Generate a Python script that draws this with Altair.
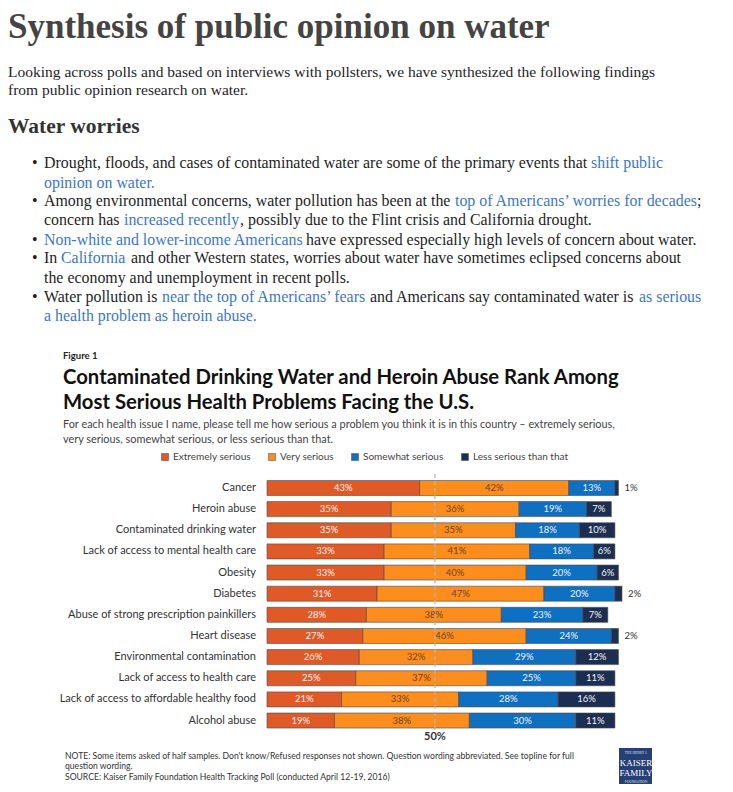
import altair as alt
import pandas as pd

# ---------------- data ----------------
categories = [
    "Cancer", "Heroin abuse", "Contaminated drinking water",
    "Lack of access to mental health care", "Obesity", "Diabetes",
    "Abuse of strong prescription painkillers", "Heart disease",
    "Environmental contamination", "Lack of access to health care",
    "Lack of access to affordable healthy food", "Alcohol abuse",
]
extremely = [43, 35, 35, 33, 33, 31, 28, 27, 26, 25, 21, 19]
very = [42, 36, 35, 41, 40, 47, 38, 46, 32, 37, 33, 38]
somewhat = [13, 19, 18, 18, 20, 20, 23, 24, 29, 25, 28, 30]
less = [1, 7, 10, 6, 6, 2, 7, 2, 12, 11, 16, 11]
series = ["Extremely serious", "Very serious", "Somewhat serious", "Less serious than that"]
midline = [47.3]          # dashed "50%" reference line as drawn in the figure
midline_label = ["50%"]

# ---------------- styles ----------------
colors = ["#df5a27", "#fd8d1d", "#0f6fc0", "#1c2e51"]
SERIF = "Liberation Serif"
SANS = "Lato"
BLUE = "#3d77c2"
INK = "#1e1e1e"
BODY = 15.9

rows = []
for i, cat in enumerate(categories):
    start = 0
    for s, vals in zip(series, [extremely, very, somewhat, less]):
        v = vals[i]
        rows.append({"category": cat, "series": s, "value": v, "start": start,
                     "end": start + v, "mid": start + v / 2, "label": f"{v}%"})
        start += v
df = pd.DataFrame(rows)
ONE = pd.DataFrame({"k": [0]})

xs = alt.Scale(domain=[0, 100], range=[259, 614])
ys = alt.Scale(domain=categories, range=[469.4, 723.1], paddingInner=0.29, paddingOuter=0.145)

bars = alt.Chart(df).mark_bar(stroke="#4a4a4a", strokeWidth=0.6).encode(
    x=alt.X("start:Q", scale=xs, axis=None),
    x2="end:Q",
    y=alt.Y("category:N", scale=ys, axis=None),
    color=alt.Color("series:N", scale=alt.Scale(domain=series, range=colors),
                    legend=alt.Legend(orient="none", legendX=152, legendY=444,
                                      direction="horizontal", title=None,
                                      symbolType="square", symbolSize=49,
                                      symbolStrokeWidth=0.6, symbolStrokeColor="#555",
                                      labelFont=SANS, labelFontSize=10, labelColor="#444",
                                      columnPadding=16, labelOffset=3)),
)

lab_base = dict(font=SANS, fontSize=9.5, baseline="middle", align="center")
white_labels = alt.Chart(df).transform_filter(
    "datum.value >= 5 && datum.series != 'Very serious'"
).mark_text(color="#f4f4f4", **lab_base).encode(
    x=alt.X("mid:Q", scale=xs, axis=None), y=alt.Y("category:N", scale=ys, axis=None), text="label:N")
brown_labels = alt.Chart(df).transform_filter(
    "datum.series == 'Very serious'"
).mark_text(color="#6b4420", **lab_base).encode(
    x=alt.X("mid:Q", scale=xs, axis=None), y=alt.Y("category:N", scale=ys, axis=None), text="label:N")
out_labels = alt.Chart(df).transform_filter("datum.value < 5").mark_text(
    font=SANS, fontSize=9.5, baseline="middle", align="left", dx=6, color="#333"
).encode(x=alt.X("end:Q", scale=xs, axis=None), y=alt.Y("category:N", scale=ys, axis=None), text="label:N")

cat_labels = alt.Chart(pd.DataFrame({"category": categories})).mark_text(
    font=SANS, fontSize=11, align="right", baseline="middle", color="#333"
).encode(x=alt.value(248), y=alt.Y("category:N", scale=ys, axis=None), text="category:N")

mid_df = pd.DataFrame({"m": midline, "t": midline_label})
rule = alt.Chart(mid_df).mark_rule(color="#b5b5b5", strokeDash=[4, 3], strokeWidth=1.3).encode(
    x=alt.X("m:Q", scale=xs, axis=None), y=alt.value(466), y2=alt.value(725))
rule_lab = alt.Chart(mid_df).mark_text(font=SANS, fontSize=11, fontWeight="bold", color="#333",
                                       baseline="middle").encode(
    x=alt.X("m:Q", scale=xs, axis=None), y=alt.value(729), text="t:N")


def T(s, x, y, size=BODY, color=INK, weight="normal", font=SERIF, align="left"):
    return alt.Chart(ONE).mark_text(text=s, align=align, baseline="middle", font=font,
                                    fontSize=size, fontWeight=weight, color=color).encode(
        x=alt.value(x - 8), y=alt.value(y - 8))


texts = [
    T("Synthesis of public opinion on water", 8, 27, size=35, weight="bold", color="#444"),
    T("Looking across polls and based on interviews with pollsters, we have synthesized the following findings", 8, 72, size=15.5),
    T("from public opinion research on water.", 8, 90, size=15.5),
    T("Water worries", 8, 127, size=21.5, weight="bold", color="#333"),
]
for y in [163, 201, 240, 258, 297]:
    texts.append(T("•", 32, y))
segments = [
    (163, [(44, "Drought, floods, and cases of contaminated water are some of the primary events that", INK),
           (591, "shift public", BLUE)]),
    (183, [(44, "opinion on water.", BLUE)]),
    (201, [(44, "Among environmental concerns, water pollution has been at the", INK),
           (455, "top of Americans’ worries for decades", BLUE), (697, ";", INK)]),
    (220, [(44, "concern has", INK), (124, "increased recently", BLUE),
           (240, ", possibly due to the Flint crisis and California drought.", INK)]),
    (240, [(44, "Non-white and lower-income Americans", BLUE),
           (306, "have expressed especially high levels of concern about water.", INK)]),
    (258, [(44, "In", INK), (61, "California", BLUE),
           (131, "and other Western states, worries about water have sometimes eclipsed concerns about", INK)]),
    (278, [(44, "the economy and unemployment in recent polls.", INK)]),
    (297, [(44, "Water pollution is", INK), (162, "near the top of Americans’ fears", BLUE),
           (370, "and Americans say contaminated water is", INK), (639, "as serious", BLUE)]),
    (316, [(44, "a health problem as heroin abuse.", BLUE)]),
]
for y, segs in segments:
    for x, s, c in segs:
        texts.append(T(s, x, y, color=c))

fig_texts = [
    T("Figure 1", 63, 356, size=9.5, weight="bold", font=SANS, color="#222"),
    T("Contaminated Drinking Water and Heroin Abuse Rank Among", 63, 378, size=20.3, weight="bold", font=SANS, color="#111"),
    T("Most Serious Health Problems Facing the U.S.", 63, 403, size=20.3, weight="bold", font=SANS, color="#111"),
    T("For each health issue I name, please tell me how serious a problem you think it is in this country – extremely serious,",
      63, 425, size=10.9, font=SANS, color="#444"),
    T("very serious, somewhat serious, or less serious than that.", 63, 440, size=10.9, font=SANS, color="#444"),
    T("NOTE: Some items asked of half samples. Don't know/Refused responses not shown. Question wording abbreviated. See topline for full",
      65, 756, size=8.6, font=SANS, color="#333"),
    T("question wording.", 65, 766, size=8.6, font=SANS, color="#333"),
    T("SOURCE: Kaiser Family Foundation Health Tracking Poll (conducted April 12-19, 2016)", 65, 777, size=8.6, font=SANS, color="#333"),
]

logo = alt.Chart(ONE).mark_rect(color="#263f74").encode(
    x=alt.value(619 - 8), x2=alt.value(652 - 8), y=alt.value(748 - 8), y2=alt.value(790 - 8))
logo_txt = [
    T("THE HENRY J.", 636, 753, size=3.5, font=SERIF, color="#dfe6f2", align="center"),
    T("KAISER", 636, 763, size=9, font=SERIF, color="white", align="center"),
    T("FAMILY", 636, 773, size=9, font=SERIF, color="white", align="center"),
    T("FOUNDATION", 636, 782, size=3.5, font=SERIF, color="#dfe6f2", align="center"),
]

chart = alt.layer(
    bars, white_labels, brown_labels, out_labels, cat_labels, rule, rule_lab,
    *texts, *fig_texts, logo, *logo_txt
).properties(width=717, height=776, padding=0, autosize="none").configure_view(stroke=None)

chart.save("out.html", embed_options={"renderer": "svg", "actions": False})
